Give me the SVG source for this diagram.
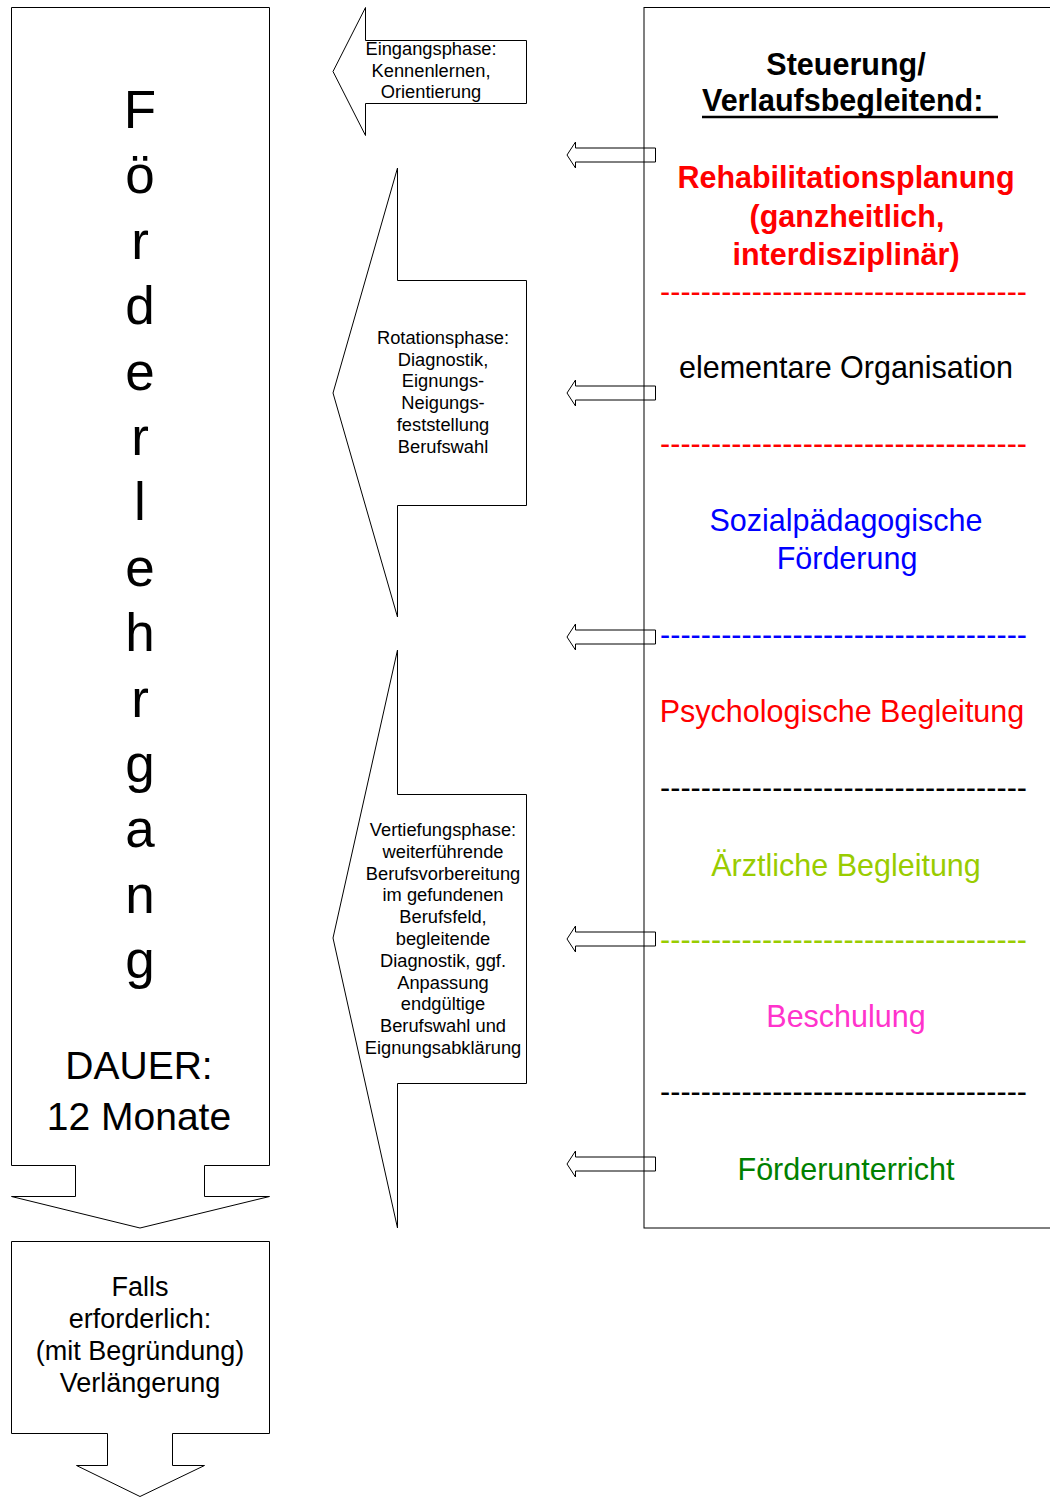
<svg xmlns="http://www.w3.org/2000/svg" width="1050" height="1497" viewBox="0 0 1050 1497">
<style>
.shape{fill:#fff;stroke:#000;stroke-width:1}
.t{font-family:"Liberation Sans",Arial,sans-serif;text-anchor:middle;fill:#000}
.big{font-size:53px}
.dur{font-size:39px}
.ext{font-size:27px}
.ph{font-size:18.3px}
.r{font-size:30.5px}
.b{font-weight:bold}
.dash{font-family:"Liberation Sans",Arial,sans-serif;font-size:30.5px}
</style>
<defs>
<path id="sa" d="M567,0 L575.5,-13 L575.5,-7 L655.5,-7 L655.5,7 L575.5,7 L575.5,13 Z"/>
</defs>
<rect width="1050" height="1497" fill="#fff"/>

<g id="foerderlehrgang">
<path class="shape" d="M11.5,7.5 L269.5,7.5 L269.5,1165.5 L204.5,1165.5 L204.5,1196.5 L269.5,1196.5 L140,1228 L11.5,1196.5 L75.5,1196.5 L75.5,1165.5 L11.5,1165.5 Z"/>
<text class="t big"><tspan x="140" y="128">F</tspan><tspan x="140" y="193.4">ö</tspan><tspan x="140" y="258.8">r</tspan><tspan x="140" y="324.2">d</tspan><tspan x="140" y="389.6">e</tspan><tspan x="140" y="455">r</tspan><tspan x="140" y="520.4">l</tspan><tspan x="140" y="585.8">e</tspan><tspan x="140" y="651.2">h</tspan><tspan x="140" y="716.6">r</tspan><tspan x="140" y="782">g</tspan><tspan x="140" y="847.4">a</tspan><tspan x="140" y="912.8">n</tspan><tspan x="140" y="978.2">g</tspan></text>
<text class="t dur"><tspan x="139" y="1079">DAUER:</tspan><tspan x="139" y="1130">12 Monate</tspan></text>
</g>

<g id="verlaengerung">
<path class="shape" d="M11.5,1241.5 L269.5,1241.5 L269.5,1433.5 L172.5,1433.5 L172.5,1465.5 L204.5,1465.5 L140,1496.5 L76.5,1465.5 L107.5,1465.5 L107.5,1433.5 L11.5,1433.5 Z"/>
<text class="t ext"><tspan x="140" y="1296">Falls</tspan><tspan x="140" y="1328">erforderlich:</tspan><tspan x="140" y="1360">(mit Begründung)</tspan><tspan x="140" y="1392">Verlängerung</tspan></text>
</g>

<g id="eingangsphase">
<path class="shape" d="M333,71.5 L365.5,7.5 L365.5,40.5 L526.5,40.5 L526.5,103.5 L365.5,103.5 L365.5,135.5 Z"/>
<text class="t ph"><tspan x="431" y="54.5">Eingangsphase:</tspan><tspan x="431" y="76.5">Kennenlernen,</tspan><tspan x="431" y="98">Orientierung</tspan></text>
</g>

<g id="rotationsphase">
<path class="shape" d="M333,393 L397.5,168 L397.5,280.5 L526.5,280.5 L526.5,505.5 L397.5,505.5 L397.5,617 Z"/>
<text class="t ph"><tspan x="443" y="344">Rotationsphase:</tspan><tspan x="443" y="365.7">Diagnostik,</tspan><tspan x="443" y="387.4">Eignungs-</tspan><tspan x="443" y="409.1">Neigungs-</tspan><tspan x="443" y="430.8">feststellung</tspan><tspan x="443" y="452.5">Berufswahl</tspan></text>
</g>

<g id="vertiefungsphase">
<path class="shape" d="M333,938 L397.5,650 L397.5,794.5 L526.5,794.5 L526.5,1083.5 L397.5,1083.5 L397.5,1228 Z"/>
<text class="t ph"><tspan x="443" y="836">Vertiefungsphase:</tspan><tspan x="443" y="857.8">weiterführende</tspan><tspan x="443" y="879.6">Berufsvorbereitung</tspan><tspan x="443" y="901.4">im gefundenen</tspan><tspan x="443" y="923.2">Berufsfeld,</tspan><tspan x="443" y="945">begleitende</tspan><tspan x="443" y="966.8">Diagnostik, ggf.</tspan><tspan x="443" y="988.6">Anpassung</tspan><tspan x="443" y="1010.4">endgültige</tspan><tspan x="443" y="1032.2">Berufswahl und</tspan><tspan x="443" y="1054">Eignungsabklärung</tspan></text>
</g>

<g id="connectors" class="shape">
<use href="#sa" transform="translate(0,155)"/>
<use href="#sa" transform="translate(0,393)"/>
<use href="#sa" transform="translate(0,637)"/>
<use href="#sa" transform="translate(0,939)"/>
<use href="#sa" transform="translate(0,1164)"/>
</g>

<g id="steuerung">
<rect x="644" y="7.5" width="420" height="1220.5" fill="none" stroke="#000" stroke-width="1"/>
<text class="t r b" x="846" y="75">Steuerung/</text>
<text class="t r b" x="702" y="111" style="text-anchor:start">Verlaufsbegleitend:</text>
<line x1="702" y1="117" x2="998" y2="117" stroke="#000" stroke-width="2.5"/>
<text class="t r b" style="fill:#ff0000"><tspan x="846" y="188">Rehabilitationsplanung</tspan><tspan x="847" y="226.5">(ganzheitlich,</tspan><tspan x="846" y="265">interdisziplinär)</tspan></text>
<text class="dash" x="660" y="302" fill="#ff0000" textLength="367" lengthAdjust="spacing">------------------------------------</text>
<text class="t r" x="846" y="378">elementare Organisation</text>
<text class="dash" x="660" y="454" fill="#ff0000" textLength="367" lengthAdjust="spacing">------------------------------------</text>
<text class="t r" style="fill:#0000ff"><tspan x="846" y="531">Sozialpädagogische</tspan><tspan x="847" y="569">Förderung</tspan></text>
<text class="dash" x="660" y="645" fill="#0000ff" textLength="367" lengthAdjust="spacing">------------------------------------</text>
<text class="t r" x="842" y="722" style="fill:#ff0000">Psychologische Begleitung</text>
<text class="dash" x="660" y="798" fill="#000" textLength="367" lengthAdjust="spacing">------------------------------------</text>
<text class="t r" x="846" y="875.5" style="fill:#99cc00">Ärztliche Begleitung</text>
<text class="dash" x="660" y="950" fill="#99cc00" textLength="367" lengthAdjust="spacing">------------------------------------</text>
<text class="t r" x="846" y="1026.5" style="fill:#ff33cc">Beschulung</text>
<text class="dash" x="660" y="1102" fill="#000" textLength="367" lengthAdjust="spacing">------------------------------------</text>
<text class="t r" x="846" y="1179.5" style="fill:#008000">Förderunterricht</text>
</g>
</svg>
